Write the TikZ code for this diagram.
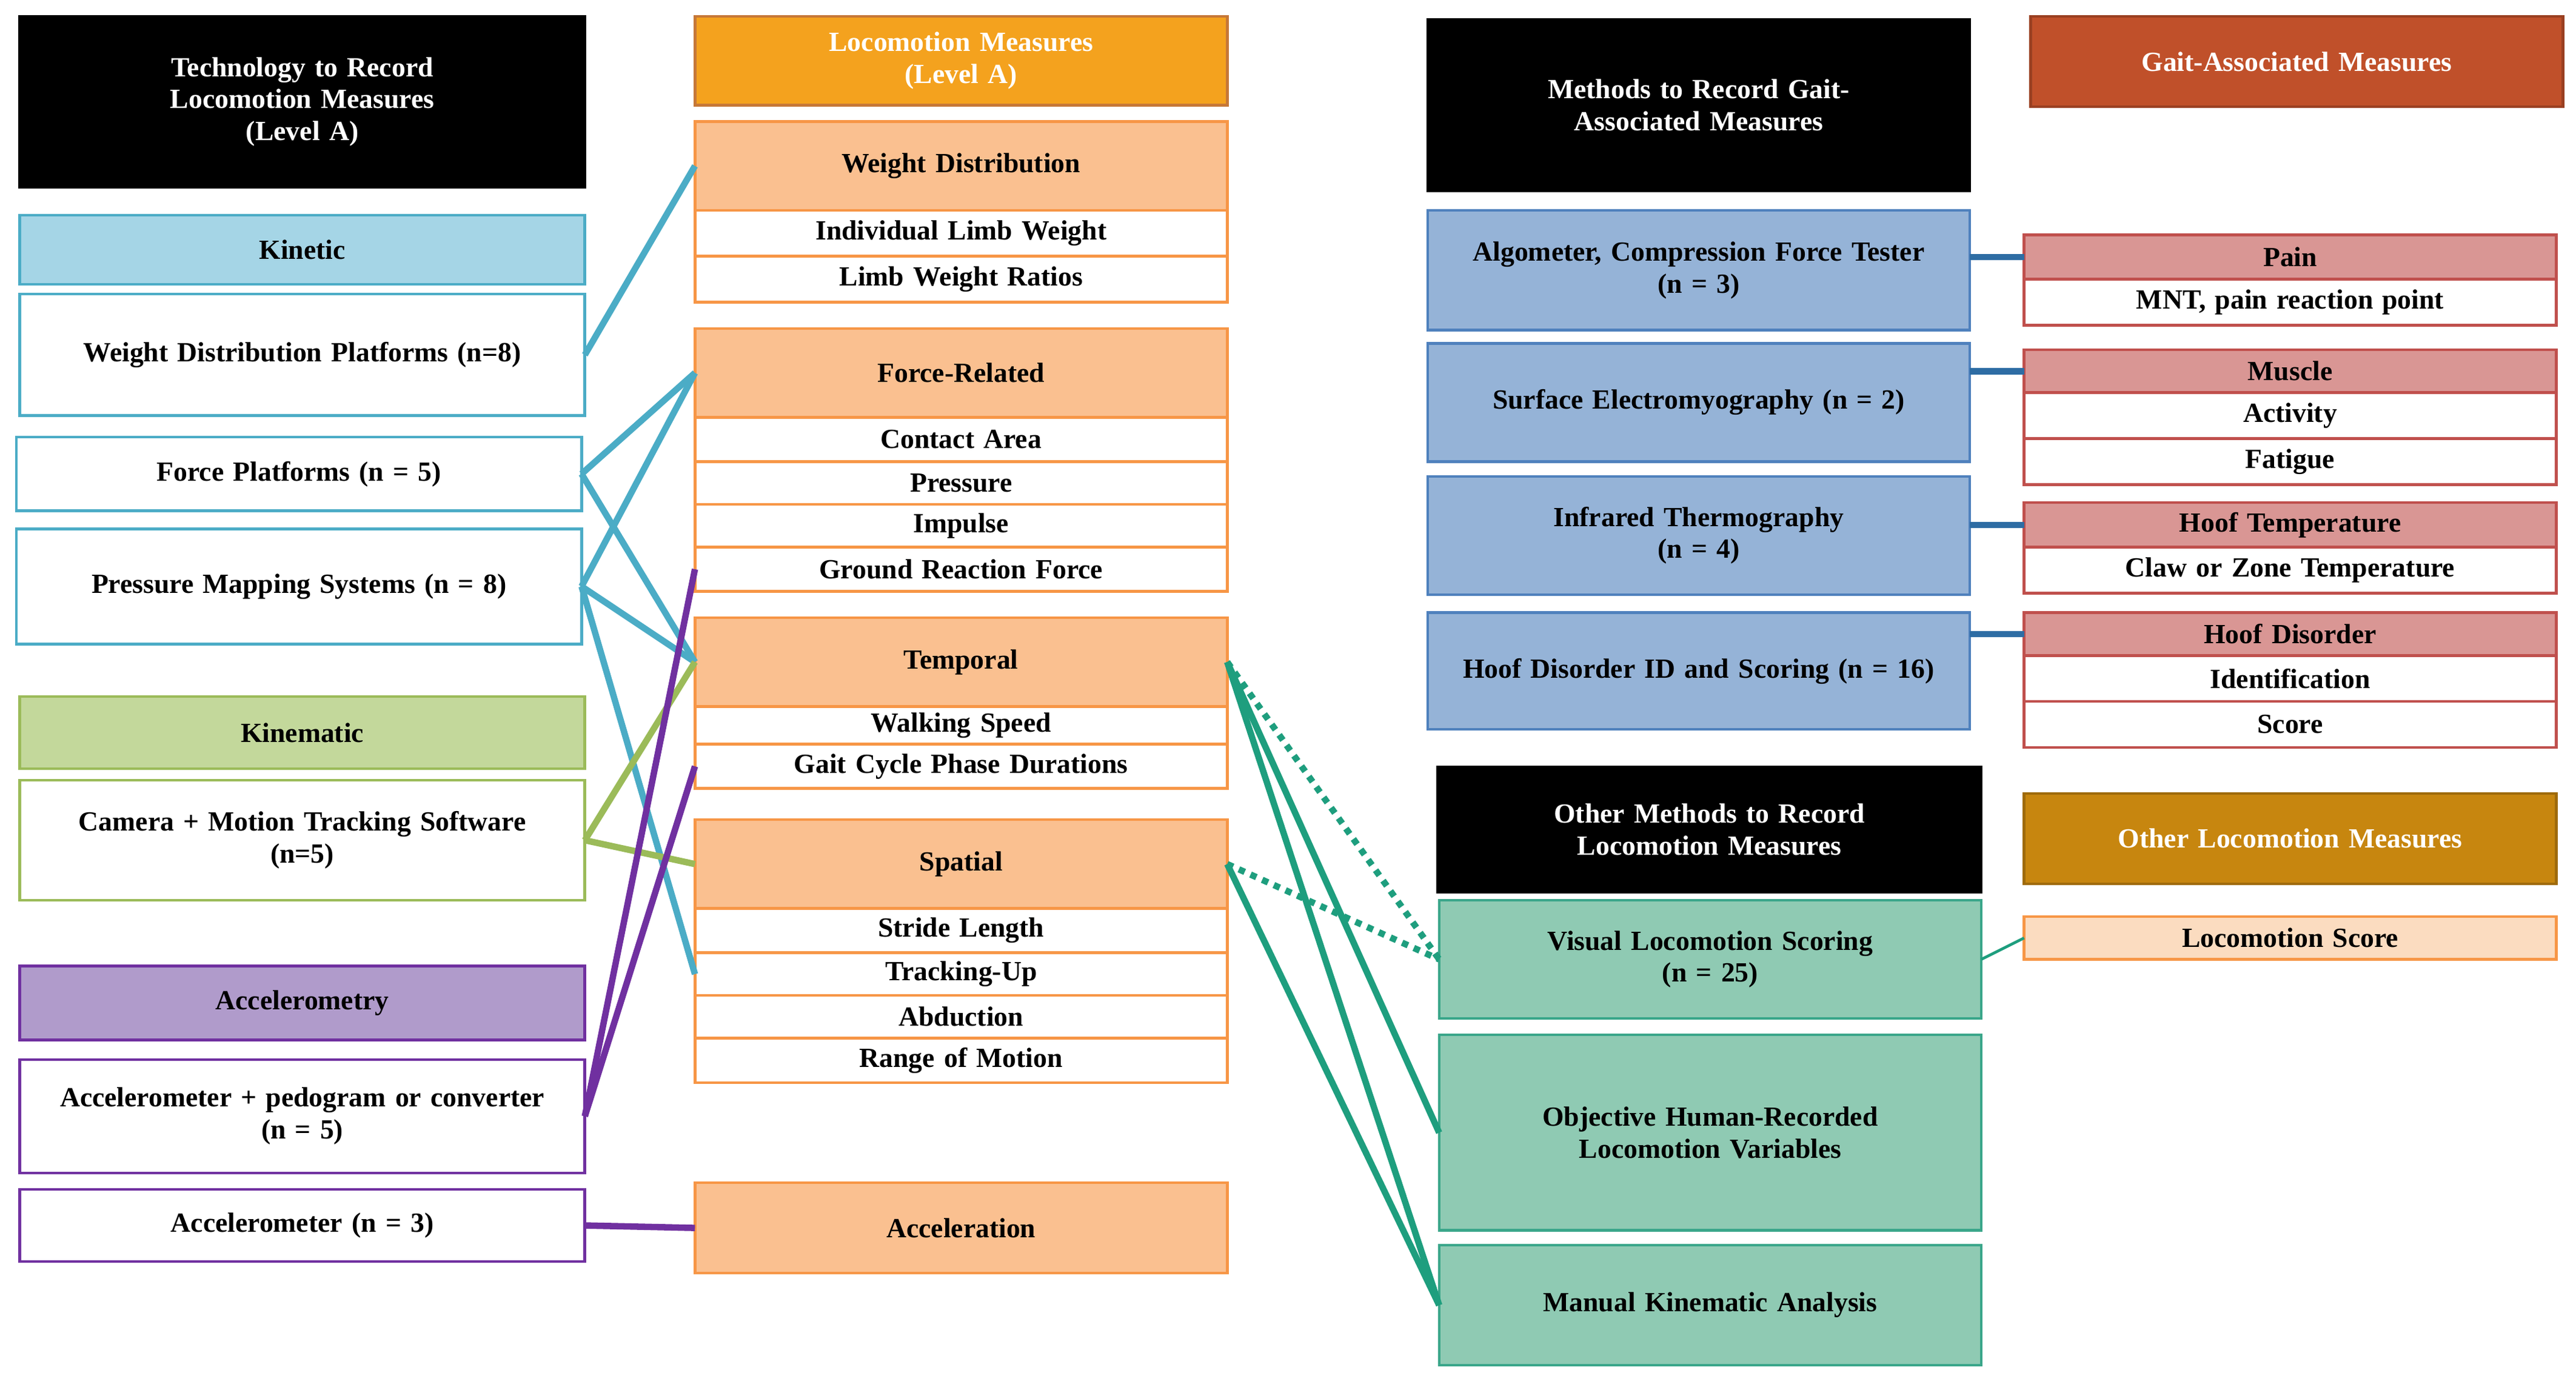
\documentclass[tikz,border=0pt]{standalone}
\usepackage{fontspec}
\setmainfont{Liberation Serif}
\usetikzlibrary{positioning}
\definecolor{kinB}{HTML}{4BACC6}\definecolor{kinF}{HTML}{A5D5E6}
\definecolor{kmG}{HTML}{9BBB59}\definecolor{kmF}{HTML}{C3D89B}
\definecolor{acP}{HTML}{7030A0}\definecolor{acF}{HTML}{B09BCB}
\definecolor{orB}{HTML}{F79646}\definecolor{orF}{HTML}{FAC090}\definecolor{orH}{HTML}{F4A21E}
\definecolor{meB}{HTML}{4F81BD}\definecolor{meF}{HTML}{95B3D7}\definecolor{meL}{HTML}{2E6DA4}
\definecolor{teB}{HTML}{3AA68A}\definecolor{teF}{HTML}{8FCAB3}\definecolor{teL}{HTML}{1E9E7E}
\definecolor{rdB}{HTML}{C0504D}\definecolor{rdF}{HTML}{D99694}\definecolor{rdH}{HTML}{C0502A}
\definecolor{goH}{HTML}{C7860F}\definecolor{goF}{HTML}{FBDCC0}
% box given by its corners (in picture units)
\newcommand{\bx}[7]{%
\pgfmathsetmacro\cx{(#3+#5)/2}\pgfmathsetmacro\cy{(#4+#6)/2}%
\pgfmathsetmacro\w{(#5-#3)*0.0271}\pgfmathsetmacro\h{(#6-#4)*0.0271}\pgfmathsetmacro\tw{\w-0.5}%
\node[#1,minimum width=\w cm,minimum height=\h cm,text width=\tw cm] (#2) at (\cx,\cy) {#7};}
\begin{document}
\begin{tikzpicture}[x=0.0271cm,y=-0.0271cm,
  font=\fontsize{13}{15}\selectfont\bfseries,
  every node/.style={draw,line width=1.3pt,inner sep=0pt,outer sep=0pt,align=center},
  head/.style={fill=black,draw=black,text=white},
  kin/.style={fill=kinF,draw=kinB},kinw/.style={fill=white,draw=kinB},
  km/.style={fill=kmF,draw=kmG},kmw/.style={fill=white,draw=kmG},
  ac/.style={fill=acF,draw=acP},acw/.style={fill=white,draw=acP},
  orh/.style={fill=orH,draw=orB!80!black,text=white},
  or/.style={fill=orF,draw=orB},orw/.style={fill=white,draw=orB},
  me/.style={fill=meF,draw=meB},
  te/.style={fill=teF,draw=teB},
  rdh/.style={fill=rdH,draw=rdH!80!black,text=white},
  rd/.style={fill=rdF,draw=rdB},rdw/.style={fill=white,draw=rdB},
  goh/.style={fill=goH,draw=goH!80!black,text=white},
  go/.style={fill=goF,draw=orB},
  link/.style={line width=3pt},
  dot/.style={line width=3pt,dash pattern=on 3pt off 3pt}]
\useasboundingbox (0,0) rectangle (1568,844);
% left column
\bx{head}{tech}{12}{10}{356}{114}{Technology to Record Locomotion Measures\\(Level A)}
\bx{kin}{kin}{12}{131}{356}{173}{Kinetic}
\bx{kinw}{wdp}{12}{179}{356}{253}{Weight Distribution Platforms (n=8)}
\bx{kinw}{fp}{10}{266}{354}{311}{Force Platforms (n = 5)}
\bx{kinw}{pms}{10}{322}{354}{392}{Pressure Mapping Systems (n = 8)}
\bx{km}{kmt}{12}{424}{356}{468}{Kinematic}
\bx{kmw}{cam}{12}{475}{356}{548}{Camera + Motion Tracking Software\\(n=5)}
\bx{ac}{acm}{12}{588}{356}{633}{Accelerometry}
\bx{acw}{acp}{12}{645}{356}{714}{Accelerometer + pedogram or converter\\(n = 5)}
\bx{acw}{acc}{12}{724}{356}{768}{Accelerometer (n = 3)}
% middle column
\bx{orh}{lm}{423}{10}{747}{64}{Locomotion Measures\\(Level A)}
\bx{or}{wd}{423}{74}{747}{128}{Weight Distribution}
\bx{orw}{ilw}{423}{128}{747}{156}{Individual Limb Weight}
\bx{orw}{lwr}{423}{156}{747}{184}{Limb Weight Ratios}
\bx{or}{fr}{423}{200}{747}{254}{Force-Related}
\bx{orw}{ca}{423}{254}{747}{281}{Contact Area}
\bx{orw}{pr}{423}{281}{747}{307}{Pressure}
\bx{orw}{imp}{423}{307}{747}{333}{Impulse}
\bx{orw}{grf}{423}{333}{747}{360}{Ground Reaction Force}
\bx{or}{tem}{423}{376}{747}{430}{Temporal}
\bx{orw}{ws}{423}{430}{747}{453}{Walking Speed}
\bx{orw}{gcp}{423}{453}{747}{480}{Gait Cycle Phase Durations}
\bx{or}{spa}{423}{499}{747}{553}{Spatial}
\bx{orw}{sl}{423}{553}{747}{580}{Stride Length}
\bx{orw}{tu}{423}{580}{747}{606}{Tracking-Up}
\bx{orw}{ab}{423}{606}{747}{632}{Abduction}
\bx{orw}{rom}{423}{632}{747}{659}{Range of Motion}
\bx{or}{acl}{423}{720}{747}{775}{Acceleration}
% methods column
\bx{head}{gam}{869}{12}{1199}{116}{Methods to Record Gait-Associated Measures}
\bx{me}{alg}{869}{128}{1199}{201}{Algometer, Compression Force Tester\\(n = 3)}
\bx{me}{emg}{869}{209}{1199}{281}{Surface Electromyography (n = 2)}
\bx{me}{irt}{869}{290}{1199}{362}{Infrared Thermography\\(n = 4)}
\bx{me}{hds}{869}{373}{1199}{444}{Hoof Disorder ID and Scoring (n = 16)}
\bx{head}{oth}{875}{467}{1206}{543}{Other Methods to Record Locomotion Measures}
\bx{te}{vls}{876}{548}{1206}{620}{Visual Locomotion Scoring\\(n = 25)}
\bx{te}{obj}{876}{630}{1206}{749}{Objective Human-Recorded Locomotion Variables}
\bx{te}{mka}{876}{758}{1206}{831}{Manual Kinematic Analysis}
% measures column
\bx{rdh}{gmeas}{1236}{10}{1560}{65}{Gait-Associated Measures}
\bx{rd}{pain}{1232}{143}{1556}{170}{Pain}
\bx{rdw}{mnt}{1232}{170}{1556}{198}{MNT, pain reaction point}
\bx{rd}{mus}{1232}{213}{1556}{239}{Muscle}
\bx{rdw}{act}{1232}{239}{1556}{267}{Activity}
\bx{rdw}{fat}{1232}{267}{1556}{295}{Fatigue}
\bx{rd}{ht}{1232}{306}{1556}{333}{Hoof Temperature}
\bx{rdw}{czt}{1232}{333}{1556}{361}{Claw or Zone Temperature}
\bx{rd}{hd}{1232}{373}{1556}{399}{Hoof Disorder}
\bx{rdw}{idf}{1232}{399}{1556}{427}{Identification}
\bx{rdw}{sco}{1232}{427}{1556}{455}{Score}
\bx{goh}{olm}{1232}{483}{1556}{538}{Other Locomotion Measures}
\bx{go}{ls}{1232}{558}{1556}{584}{Locomotion Score}
% connectors
\draw[link,kinB] (wdp.east) -- (wd.west);
\foreach \a/\b in {fp/fr,fp/tem,pms/fr,pms/tem,pms/tu} {\draw[link,kinB] (\a.east) -- (\b.west);}
\foreach \b in {tem,spa} {\draw[link,kmG] (cam.east) -- (\b.west);}
\foreach \b in {grf,gcp} {\draw[link,acP] (acp.east) -- (\b.west);}
\draw[link,acP] (acc.east) -- (acl.west);
\foreach \a in {tem,spa} {\draw[dot,teL] (\a.east) -- (vls.west);}
\foreach \a/\b in {tem/obj,tem/mka,spa/mka} {\draw[link,teL] (\a.east) -- (\b.west);}
\draw[line width=1.3pt,teL] (vls.east) -- (ls.west);
\foreach \a/\b in {alg/pain,emg/mus,irt/ht,hds/hd} {\draw[link,meL] (\a.east|-\b.west) -- (\b.west);}
\end{tikzpicture}
\end{document}
